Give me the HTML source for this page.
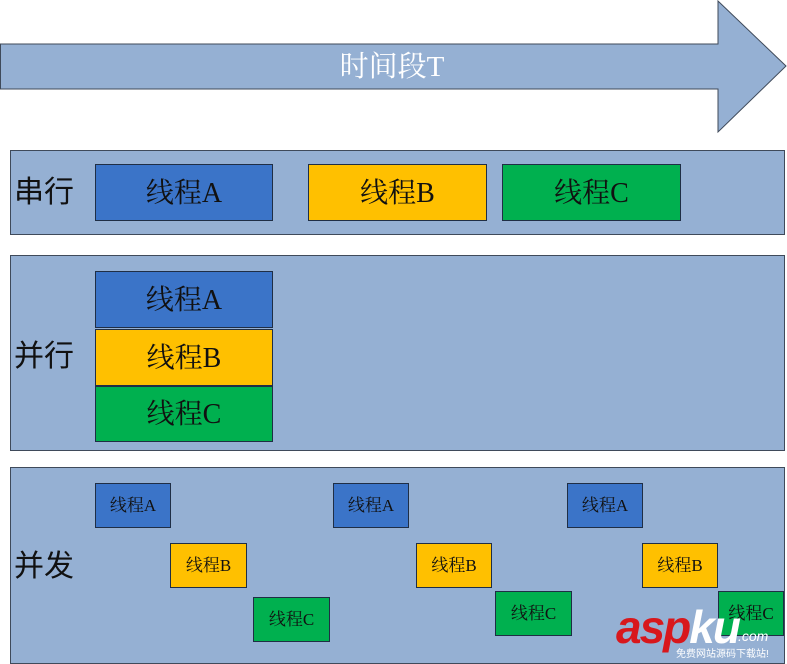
<!DOCTYPE html>
<html><head><meta charset="utf-8"><style>
body{margin:0;width:787px;height:664px;background:#fff;position:relative;overflow:hidden}
.p{position:absolute;background:#95b0d3;border:1px solid #3f4a5a;box-sizing:border-box}
.b{position:absolute;box-sizing:border-box;border:1.5px solid #1f2e45;display:flex;align-items:center;justify-content:center;font-family:"Liberation Serif","Noto Serif CJK SC",serif;color:#111;padding-bottom:4px}
.L{font-size:28px}.S{font-size:17px}
.A{background:#3b74c8}.B{background:#ffc000}.C{background:#00b04f}
.lab{position:absolute;font-family:"Liberation Sans","Noto Sans CJK SC",sans-serif;font-size:30px;color:#111}
</style></head><body>
<svg style="position:absolute;left:0;top:0" width="787" height="140">
<polygon points="0.5,44 718,44 718,1 786,66 718,132 718,89 0.5,89" fill="#95b0d3" stroke="#3f4a5a" stroke-width="1"/>
<text x="392" y="76" text-anchor="middle" font-family="Liberation Serif,Noto Serif CJK SC,serif" font-size="29" fill="#fff">时间段T</text>
</svg>
<div class="p" style="left:10px;top:150px;width:775px;height:85px"></div>
<div class="lab" style="left:14px;top:167px">串行</div>
<div class="b L A" style="left:95px;top:164px;width:178px;height:57px">线程A</div>
<div class="b L B" style="left:308px;top:164px;width:179px;height:57px">线程B</div>
<div class="b L C" style="left:502px;top:164px;width:179px;height:57px">线程C</div>

<div class="p" style="left:10px;top:255px;width:775px;height:196px"></div>
<div class="lab" style="left:14px;top:331px">并行</div>
<div class="b L A" style="left:95px;top:271px;width:178px;height:57px">线程A</div>
<div class="b L B" style="left:95px;top:329px;width:178px;height:57px">线程B</div>
<div class="b L C" style="left:95px;top:386px;width:178px;height:56px">线程C</div>

<div class="p" style="left:10px;top:467px;width:775px;height:197px"></div>
<div class="lab" style="left:14px;top:541px">并发</div>
<div class="b S A" style="left:95px;top:483px;width:76px;height:45px">线程A</div>
<div class="b S A" style="left:333px;top:483px;width:76px;height:45px">线程A</div>
<div class="b S A" style="left:567px;top:483px;width:76px;height:45px">线程A</div>
<div class="b S B" style="left:170px;top:543px;width:77px;height:45px">线程B</div>
<div class="b S B" style="left:416px;top:543px;width:76px;height:45px">线程B</div>
<div class="b S B" style="left:642px;top:543px;width:76px;height:45px">线程B</div>
<div class="b S C" style="left:253px;top:597px;width:77px;height:45px">线程C</div>
<div class="b S C" style="left:495px;top:591px;width:77px;height:45px">线程C</div>
<div class="b S C" style="left:718px;top:591px;width:66px;height:45px">线程C</div>
<div style="position:absolute;left:616px;top:600px;font-family:'Liberation Sans',sans-serif;font-weight:bold;font-style:italic;font-size:46px;color:#d8171c;letter-spacing:-2px">asp<span style="color:#fff">ku</span></div>
<div style="position:absolute;left:738px;top:628px;font-family:'Liberation Sans',sans-serif;font-style:italic;font-size:14px;color:#fff">.com</div>
<div style="position:absolute;left:676px;top:645px;font-family:'Liberation Sans','Noto Sans CJK SC',sans-serif;font-size:10px;color:#fff">免费网站源码下载站!</div>
</body></html>
